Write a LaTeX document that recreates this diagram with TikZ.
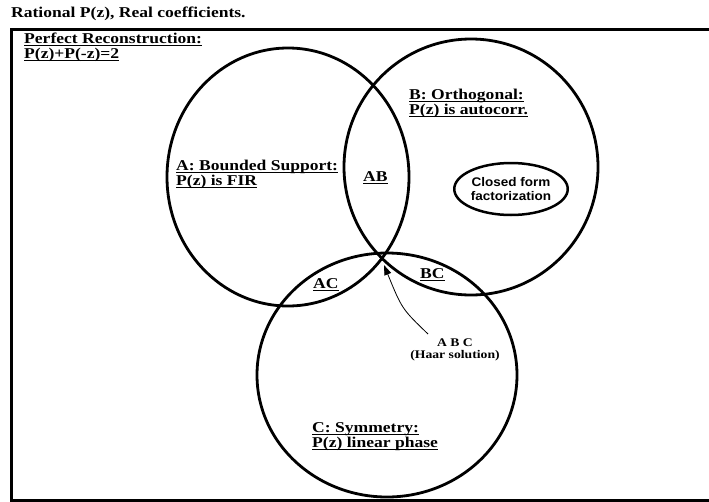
\documentclass[tikz,border=0pt]{standalone}
\usepackage{fontspec}
\setmainfont{Liberation Serif}
\newfontfamily\lblfont[FakeStretch=1.17]{Liberation Serif}
\newfontfamily\sansf[FakeStretch=1.08]{Liberation Sans}
\usetikzlibrary{shapes.geometric,arrows.meta}
\newcommand\ulx[1]{\setbox0\hbox{#1}\rlap{\rule[-2.8pt]{\wd0}{1.3pt}}\box0}
\begin{document}
\begin{tikzpicture}[x=1pt,y=-1pt,
  lbl/.style={anchor=base west,inner sep=0pt,font=\lblfont\fontsize{15}{15}\selectfont\bfseries},
  setc/.style={draw,ellipse,line width=2.8pt,inner sep=0pt},
  small/.style={inner sep=0pt,font=\lblfont\fontsize{11.7}{12}\selectfont\bfseries}]
\useasboundingbox (0,0) rectangle (709,501);
\begin{scope}
\clip (0,0) rectangle (709,501);
\draw[line width=3pt] (760,29) -- (11,29) -- (11,500) -- (760,500);
\end{scope}
% sets
\node[setc,minimum width=242pt,minimum height=258pt] (A) at (288,177) {};
\node[setc,minimum width=254pt,minimum height=256pt] (B) at (471,167) {};
\node[setc,minimum width=260pt,minimum height=244pt] (C) at (387,375) {};
\node[draw,ellipse,line width=2.5pt,minimum width=98pt,minimum height=52pt,inner sep=0pt,
      font=\sansf\bfseries\fontsize{12.5}{14}\selectfont,align=center] (cf) at (511,189) {Closed form\\factorization};
% labels
\node[lbl] (t1) at (11,17) {Rational P(z), Real coefficients.};
\node[lbl] (pr1) at (24,43) {\ulx{Perfect Reconstruction:}};
\node[lbl] (pr2) at (24,58) {\ulx{P(z)+P(-z)=2}};
\node[lbl] (a1) at (176,170) {\ulx{A: Bounded Support:}};
\node[lbl] (a2) at (176,185) {\ulx{P(z) is FIR}};
\node[lbl] (ab) at (363,181) {\ulx{AB}};
\node[lbl] (b1) at (409,99) {\ulx{B: Orthogonal:}};
\node[lbl] (b2) at (409,114) {\ulx{P(z) is autocorr.}};
\node[lbl] (ac) at (313,288) {\ulx{AC}};
\node[lbl] (bc) at (420,278) {\ulx{BC}};
\node[lbl] (c1) at (312,432) {\ulx{C: Symmetry:}};
\node[lbl] (c2) at (312,447) {\ulx{P(z) linear phase}};
\node[small,align=center,anchor=north] (abc) at (455,339) {A B C\\(Haar solution)};
% arrow
\coordinate (s) at (428,334);
\coordinate (t) at (384,265);
\draw[line width=0.8pt,-{Triangle[length=10pt,width=7pt]}] (s) .. controls (402,309) .. (t);
\end{tikzpicture}
\end{document}
